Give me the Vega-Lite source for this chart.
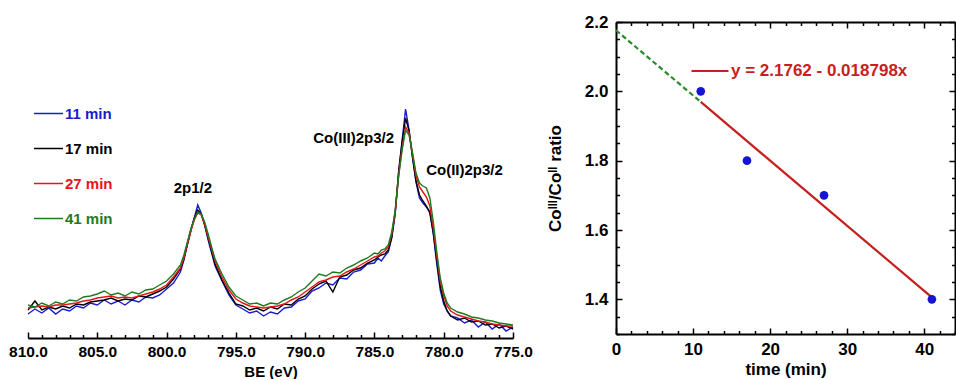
{
  "$schema": "https://vega.github.io/schema/vega-lite/v6.json",
  "padding": {"left": 8, "top": 13, "right": 0, "bottom": 0},
  "background": "white",
  "spacing": 13,
  "config": {
    "view": {"stroke": null},
    "font": "Liberation Sans",
    "axis": {"grid": false, "domainColor": "#000", "tickColor": "#000", "labelColor": "#000", "titleColor": "#000", "labelFontWeight": "bold", "titleFontWeight": "bold", "domainWidth": 2, "tickWidth": 1.5, "labelOverlap": false, "labelFlush": false},
    "legend": {"padding": 0, "titlePadding": 0}
  },
  "resolve": {"scale": {"color": "independent"}, "legend": {"color": "independent"}},
  "datasets": {
    "spec": [
      {"t":"11 min","e":810,"i":24},{"t":"11 min","e":809.5,"i":29},{"t":"11 min","e":809,"i":25},{"t":"11 min","e":808.5,"i":30},{"t":"11 min","e":808,"i":24},{"t":"11 min","e":807.5,"i":29},{"t":"11 min","e":807,"i":27},{"t":"11 min","e":806.5,"i":32},{"t":"11 min","e":806,"i":30},{"t":"11 min","e":805.5,"i":35},{"t":"11 min","e":805,"i":33},{"t":"11 min","e":804.5,"i":38},{"t":"11 min","e":804,"i":34},{"t":"11 min","e":803.5,"i":37},{"t":"11 min","e":803,"i":33},{"t":"11 min","e":802.5,"i":38},{"t":"11 min","e":802,"i":36},{"t":"11 min","e":801.5,"i":41},{"t":"11 min","e":801,"i":40},{"t":"11 min","e":800.5,"i":43},{"t":"11 min","e":800,"i":49},{"t":"11 min","e":799.5,"i":55},{"t":"11 min","e":799,"i":66},{"t":"11 min","e":798.75,"i":78},{"t":"11 min","e":798.5,"i":93},{"t":"11 min","e":798.25,"i":107},{"t":"11 min","e":798,"i":120},{"t":"11 min","e":797.75,"i":133},{"t":"11 min","e":797.5,"i":125},{"t":"11 min","e":797.25,"i":113},{"t":"11 min","e":797,"i":98},{"t":"11 min","e":796.75,"i":85},{"t":"11 min","e":796.5,"i":72},{"t":"11 min","e":796,"i":57},{"t":"11 min","e":795.5,"i":43},{"t":"11 min","e":795,"i":33},{"t":"11 min","e":794.5,"i":29},{"t":"11 min","e":794,"i":25},{"t":"11 min","e":793.5,"i":27},{"t":"11 min","e":793,"i":22},{"t":"11 min","e":792.5,"i":26},{"t":"11 min","e":792,"i":24},{"t":"11 min","e":791.5,"i":30},{"t":"11 min","e":791,"i":31},{"t":"11 min","e":790.5,"i":37},{"t":"11 min","e":790,"i":39},{"t":"11 min","e":789.5,"i":47},{"t":"11 min","e":789,"i":50},{"t":"11 min","e":788.5,"i":55},{"t":"11 min","e":788,"i":53},{"t":"11 min","e":787.5,"i":60},{"t":"11 min","e":787,"i":59},{"t":"11 min","e":786.5,"i":66},{"t":"11 min","e":786,"i":68},{"t":"11 min","e":785.5,"i":74},{"t":"11 min","e":785,"i":75},{"t":"11 min","e":784.75,"i":80},{"t":"11 min","e":784.5,"i":77},{"t":"11 min","e":784.25,"i":82},{"t":"11 min","e":784,"i":86},{"t":"11 min","e":783.75,"i":100},{"t":"11 min","e":783.5,"i":124},{"t":"11 min","e":783.25,"i":166},{"t":"11 min","e":783,"i":198},{"t":"11 min","e":782.75,"i":229},{"t":"11 min","e":782.5,"i":208},{"t":"11 min","e":782.25,"i":180},{"t":"11 min","e":782,"i":156},{"t":"11 min","e":781.75,"i":140},{"t":"11 min","e":781.5,"i":135},{"t":"11 min","e":781.25,"i":131},{"t":"11 min","e":781,"i":126},{"t":"11 min","e":780.75,"i":104},{"t":"11 min","e":780.5,"i":74},{"t":"11 min","e":780.25,"i":48},{"t":"11 min","e":780,"i":34},{"t":"11 min","e":779.75,"i":27},{"t":"11 min","e":779.5,"i":22},{"t":"11 min","e":779,"i":20},{"t":"11 min","e":778.5,"i":15},{"t":"11 min","e":778,"i":18},{"t":"11 min","e":777.5,"i":11},{"t":"11 min","e":777,"i":16},{"t":"11 min","e":776.5,"i":9},{"t":"11 min","e":776,"i":14},{"t":"11 min","e":775.5,"i":7},{"t":"11 min","e":775,"i":11},
      {"t":"17 min","e":810,"i":28},{"t":"17 min","e":809.5,"i":37},{"t":"17 min","e":809,"i":28},{"t":"17 min","e":808.5,"i":31},{"t":"17 min","e":808,"i":29},{"t":"17 min","e":807.5,"i":32},{"t":"17 min","e":807,"i":30},{"t":"17 min","e":806.5,"i":34},{"t":"17 min","e":806,"i":33},{"t":"17 min","e":805.5,"i":36},{"t":"17 min","e":805,"i":37},{"t":"17 min","e":804.5,"i":38},{"t":"17 min","e":804,"i":40},{"t":"17 min","e":803.5,"i":37},{"t":"17 min","e":803,"i":39},{"t":"17 min","e":802.5,"i":38},{"t":"17 min","e":802,"i":42},{"t":"17 min","e":801.5,"i":41},{"t":"17 min","e":801,"i":44},{"t":"17 min","e":800.5,"i":47},{"t":"17 min","e":800,"i":51},{"t":"17 min","e":799.5,"i":59},{"t":"17 min","e":799,"i":69},{"t":"17 min","e":798.75,"i":79},{"t":"17 min","e":798.5,"i":94},{"t":"17 min","e":798.25,"i":108},{"t":"17 min","e":798,"i":120},{"t":"17 min","e":797.75,"i":128},{"t":"17 min","e":797.5,"i":124},{"t":"17 min","e":797.25,"i":113},{"t":"17 min","e":797,"i":100},{"t":"17 min","e":796.75,"i":87},{"t":"17 min","e":796.5,"i":74},{"t":"17 min","e":796,"i":58},{"t":"17 min","e":795.5,"i":45},{"t":"17 min","e":795,"i":34},{"t":"17 min","e":794.5,"i":32},{"t":"17 min","e":794,"i":28},{"t":"17 min","e":793.5,"i":30},{"t":"17 min","e":793,"i":27},{"t":"17 min","e":792.5,"i":31},{"t":"17 min","e":792,"i":29},{"t":"17 min","e":791.5,"i":34},{"t":"17 min","e":791,"i":33},{"t":"17 min","e":790.5,"i":39},{"t":"17 min","e":790,"i":42},{"t":"17 min","e":789.5,"i":49},{"t":"17 min","e":789,"i":54},{"t":"17 min","e":788.5,"i":57},{"t":"17 min","e":788,"i":46},{"t":"17 min","e":787.5,"i":61},{"t":"17 min","e":787,"i":63},{"t":"17 min","e":786.5,"i":68},{"t":"17 min","e":786,"i":70},{"t":"17 min","e":785.5,"i":75},{"t":"17 min","e":785,"i":78},{"t":"17 min","e":784.75,"i":81},{"t":"17 min","e":784.5,"i":83},{"t":"17 min","e":784.25,"i":84},{"t":"17 min","e":784,"i":88},{"t":"17 min","e":783.75,"i":101},{"t":"17 min","e":783.5,"i":126},{"t":"17 min","e":783.25,"i":167},{"t":"17 min","e":783,"i":196},{"t":"17 min","e":782.75,"i":220},{"t":"17 min","e":782.5,"i":207},{"t":"17 min","e":782.25,"i":181},{"t":"17 min","e":782,"i":157},{"t":"17 min","e":781.75,"i":143},{"t":"17 min","e":781.5,"i":137},{"t":"17 min","e":781.25,"i":132},{"t":"17 min","e":781,"i":125},{"t":"17 min","e":780.75,"i":105},{"t":"17 min","e":780.5,"i":77},{"t":"17 min","e":780.25,"i":52},{"t":"17 min","e":780,"i":37},{"t":"17 min","e":779.75,"i":27},{"t":"17 min","e":779.5,"i":22},{"t":"17 min","e":779,"i":18},{"t":"17 min","e":778.5,"i":20},{"t":"17 min","e":778,"i":16},{"t":"17 min","e":777.5,"i":17},{"t":"17 min","e":777,"i":13},{"t":"17 min","e":776.5,"i":14},{"t":"17 min","e":776,"i":10},{"t":"17 min","e":775.5,"i":12},{"t":"17 min","e":775,"i":9},
      {"t":"27 min","e":810,"i":30},{"t":"27 min","e":809.5,"i":31},{"t":"27 min","e":809,"i":32},{"t":"27 min","e":808.5,"i":31},{"t":"27 min","e":808,"i":33},{"t":"27 min","e":807.5,"i":33},{"t":"27 min","e":807,"i":34},{"t":"27 min","e":806.5,"i":35},{"t":"27 min","e":806,"i":37},{"t":"27 min","e":805.5,"i":38},{"t":"27 min","e":805,"i":40},{"t":"27 min","e":804.5,"i":41},{"t":"27 min","e":804,"i":42},{"t":"27 min","e":803.5,"i":40},{"t":"27 min","e":803,"i":41},{"t":"27 min","e":802.5,"i":40},{"t":"27 min","e":802,"i":42},{"t":"27 min","e":801.5,"i":44},{"t":"27 min","e":801,"i":46},{"t":"27 min","e":800.5,"i":49},{"t":"27 min","e":800,"i":53},{"t":"27 min","e":799.5,"i":61},{"t":"27 min","e":799,"i":70},{"t":"27 min","e":798.75,"i":80},{"t":"27 min","e":798.5,"i":94},{"t":"27 min","e":798.25,"i":107},{"t":"27 min","e":798,"i":118},{"t":"27 min","e":797.75,"i":125},{"t":"27 min","e":797.5,"i":123},{"t":"27 min","e":797.25,"i":114},{"t":"27 min","e":797,"i":101},{"t":"27 min","e":796.75,"i":89},{"t":"27 min","e":796.5,"i":77},{"t":"27 min","e":796,"i":61},{"t":"27 min","e":795.5,"i":48},{"t":"27 min","e":795,"i":39},{"t":"27 min","e":794.5,"i":35},{"t":"27 min","e":794,"i":32},{"t":"27 min","e":793.5,"i":31},{"t":"27 min","e":793,"i":30},{"t":"27 min","e":792.5,"i":31},{"t":"27 min","e":792,"i":32},{"t":"27 min","e":791.5,"i":34},{"t":"27 min","e":791,"i":38},{"t":"27 min","e":790.5,"i":41},{"t":"27 min","e":790,"i":46},{"t":"27 min","e":789.5,"i":51},{"t":"27 min","e":789,"i":56},{"t":"27 min","e":788.5,"i":58},{"t":"27 min","e":788,"i":61},{"t":"27 min","e":787.5,"i":62},{"t":"27 min","e":787,"i":66},{"t":"27 min","e":786.5,"i":69},{"t":"27 min","e":786,"i":73},{"t":"27 min","e":785.5,"i":77},{"t":"27 min","e":785,"i":81},{"t":"27 min","e":784.75,"i":82},{"t":"27 min","e":784.5,"i":85},{"t":"27 min","e":784.25,"i":87},{"t":"27 min","e":784,"i":91},{"t":"27 min","e":783.75,"i":104},{"t":"27 min","e":783.5,"i":126},{"t":"27 min","e":783.25,"i":163},{"t":"27 min","e":783,"i":190},{"t":"27 min","e":782.75,"i":211},{"t":"27 min","e":782.5,"i":205},{"t":"27 min","e":782.25,"i":184},{"t":"27 min","e":782,"i":162},{"t":"27 min","e":781.75,"i":151},{"t":"27 min","e":781.5,"i":146},{"t":"27 min","e":781.25,"i":141},{"t":"27 min","e":781,"i":132},{"t":"27 min","e":780.75,"i":110},{"t":"27 min","e":780.5,"i":82},{"t":"27 min","e":780.25,"i":57},{"t":"27 min","e":780,"i":42},{"t":"27 min","e":779.75,"i":32},{"t":"27 min","e":779.5,"i":27},{"t":"27 min","e":779,"i":23},{"t":"27 min","e":778.5,"i":21},{"t":"27 min","e":778,"i":19},{"t":"27 min","e":777.5,"i":17},{"t":"27 min","e":777,"i":16},{"t":"27 min","e":776.5,"i":14},{"t":"27 min","e":776,"i":13},{"t":"27 min","e":775.5,"i":12},{"t":"27 min","e":775,"i":12},
      {"t":"41 min","e":810,"i":33},{"t":"41 min","e":809.5,"i":31},{"t":"41 min","e":809,"i":35},{"t":"41 min","e":808.5,"i":32},{"t":"41 min","e":808,"i":36},{"t":"41 min","e":807.5,"i":34},{"t":"41 min","e":807,"i":38},{"t":"41 min","e":806.5,"i":37},{"t":"41 min","e":806,"i":41},{"t":"41 min","e":805.5,"i":42},{"t":"41 min","e":805,"i":44},{"t":"41 min","e":804.5,"i":47},{"t":"41 min","e":804,"i":43},{"t":"41 min","e":803.5,"i":45},{"t":"41 min","e":803,"i":42},{"t":"41 min","e":802.5,"i":46},{"t":"41 min","e":802,"i":44},{"t":"41 min","e":801.5,"i":48},{"t":"41 min","e":801,"i":49},{"t":"41 min","e":800.5,"i":53},{"t":"41 min","e":800,"i":57},{"t":"41 min","e":799.5,"i":64},{"t":"41 min","e":799,"i":73},{"t":"41 min","e":798.75,"i":83},{"t":"41 min","e":798.5,"i":96},{"t":"41 min","e":798.25,"i":109},{"t":"41 min","e":798,"i":119},{"t":"41 min","e":797.75,"i":126},{"t":"41 min","e":797.5,"i":124},{"t":"41 min","e":797.25,"i":116},{"t":"41 min","e":797,"i":104},{"t":"41 min","e":796.75,"i":91},{"t":"41 min","e":796.5,"i":79},{"t":"41 min","e":796,"i":64},{"t":"41 min","e":795.5,"i":51},{"t":"41 min","e":795,"i":42},{"t":"41 min","e":794.5,"i":38},{"t":"41 min","e":794,"i":34},{"t":"41 min","e":793.5,"i":35},{"t":"41 min","e":793,"i":32},{"t":"41 min","e":792.5,"i":35},{"t":"41 min","e":792,"i":34},{"t":"41 min","e":791.5,"i":38},{"t":"41 min","e":791,"i":41},{"t":"41 min","e":790.5,"i":46},{"t":"41 min","e":790,"i":50},{"t":"41 min","e":789.5,"i":57},{"t":"41 min","e":789,"i":64},{"t":"41 min","e":788.5,"i":62},{"t":"41 min","e":788,"i":66},{"t":"41 min","e":787.5,"i":65},{"t":"41 min","e":787,"i":70},{"t":"41 min","e":786.5,"i":73},{"t":"41 min","e":786,"i":77},{"t":"41 min","e":785.5,"i":80},{"t":"41 min","e":785,"i":85},{"t":"41 min","e":784.75,"i":84},{"t":"41 min","e":784.5,"i":88},{"t":"41 min","e":784.25,"i":89},{"t":"41 min","e":784,"i":93},{"t":"41 min","e":783.75,"i":106},{"t":"41 min","e":783.5,"i":128},{"t":"41 min","e":783.25,"i":162},{"t":"41 min","e":783,"i":188},{"t":"41 min","e":782.75,"i":208},{"t":"41 min","e":782.5,"i":203},{"t":"41 min","e":782.25,"i":185},{"t":"41 min","e":782,"i":165},{"t":"41 min","e":781.75,"i":155},{"t":"41 min","e":781.5,"i":152},{"t":"41 min","e":781.25,"i":150},{"t":"41 min","e":781,"i":140},{"t":"41 min","e":780.75,"i":116},{"t":"41 min","e":780.5,"i":86},{"t":"41 min","e":780.25,"i":60},{"t":"41 min","e":780,"i":45},{"t":"41 min","e":779.75,"i":35},{"t":"41 min","e":779.5,"i":30},{"t":"41 min","e":779,"i":26},{"t":"41 min","e":778.5,"i":24},{"t":"41 min","e":778,"i":21},{"t":"41 min","e":777.5,"i":20},{"t":"41 min","e":777,"i":18},{"t":"41 min","e":776.5,"i":17},{"t":"41 min","e":776,"i":15},{"t":"41 min","e":775.5,"i":14},{"t":"41 min","e":775,"i":13}
    ],
    "ann": [
      {"e": 798.1, "i": 150, "label": "2p1/2"},
      {"e": 786.5, "i": 200, "label": "Co(III)2p3/2"},
      {"e": 778.5, "i": 168, "label": "Co(II)2p3/2"}
    ],
    "pts": [
      {"time": 11, "ratio": 2.0},
      {"time": 17, "ratio": 1.8},
      {"time": 27, "ratio": 1.7},
      {"time": 41, "ratio": 1.4}
    ],
    "fit": [
      {"time": 11, "ratio": 1.9694, "lab": "y = 2.1762 - 0.018798x"},
      {"time": 41, "ratio": 1.4055, "lab": "y = 2.1762 - 0.018798x"}
    ],
    "ext": [
      {"time": 0, "ratio": 2.1762},
      {"time": 11, "ratio": 1.9694}
    ]
  },
  "hconcat": [
    {
      "width": 485,
      "height": 316,
      "layer": [
        {
          "data": {"name": "spec"},
          "mark": {"type": "line", "strokeWidth": 1.4},
          "encoding": {
            "x": {
              "field": "e", "type": "quantitative",
              "scale": {"domain": [775, 810], "reverse": true, "nice": false, "zero": false},
              "axis": null
            },
            "y": {"field": "i", "type": "quantitative", "scale": {"domain": [0, 316], "nice": false, "zero": false}, "axis": null},
            "color": {
              "field": "t", "type": "nominal",
              "scale": {"domain": ["11 min", "17 min", "27 min", "41 min"], "range": ["#1a1ad0", "#000000", "#e8141a", "#1e7b1e"]},
              "legend": {
                "orient": "none", "legendX": 5, "legendY": 76, "title": null,
                "symbolType": "stroke", "symbolSize": 840, "symbolStrokeWidth": 1.5,
                "labelFontSize": 15, "labelFontWeight": "bold", "labelOffset": 1, "rowPadding": 11,
                "labelColor": {"expr": "datum.value == '11 min' ? '#1a1ad0' : datum.value == '17 min' ? '#000000' : datum.value == '27 min' ? '#e8141a' : '#1e7b1e'"}
              }
            }
          }
        },
        {
          "data": {"name": "ann"},
          "mark": {"type": "text", "fontSize": 15, "fontWeight": "bold", "color": "#000"},
          "encoding": {
            "x": {
              "field": "e", "type": "quantitative",
              "axis": {
                "orient": "bottom",
                "values": [775,776,777,778,779,780,781,782,783,784,785,786,787,788,789,790,791,792,793,794,795,796,797,798,799,800,801,802,803,804,805,806,807,808,809,810],
                "format": ".1f",
                "labelOverlap": false,
                "labelExpr": "datum.value % 5 == 0 ? datum.label : ''",
                "domain": true,
                "domainColor": "#000000",
                "domainWidth": 2,
                "ticks": true,
                "tickColor": "#000000",
                "tickWidth": 1.5,
                "tickSize": {"condition": {"test": "datum.value % 5 == 0", "value": -6}, "value": -3.5},
                "labelFontSize": 15.5,
                "labelPadding": 12,
                "title": "BE (eV)",
                "titleFontSize": 15,
                "titlePadding": 2
              }
            },
            "y": {"field": "i", "type": "quantitative", "axis": null},
            "text": {"field": "label"}
          }
        }
      ],
      "resolve": {"axis": {"x": "independent", "y": "independent"}}
    },
    {
      "width": 339,
      "height": 312,
      "layer": [
        {
          "data": {"name": "ext"},
          "mark": {"type": "line", "color": "#2a8a2a", "strokeWidth": 2.2, "strokeDash": [5, 3]},
          "encoding": {
            "x": {
              "field": "time", "type": "quantitative",
              "scale": {"domain": [0, 44], "nice": false, "zero": false},
              "axis": {
                "orient": "top", "labels": false, "title": null,
                "values": [0,2,4,6,8,10,12,14,16,18,20,22,24,26,28,30,32,34,36,38,40,42,44],
                "tickSize": {"condition": {"test": "datum.value % 10 == 0", "value": -6}, "value": -3.5}
              }
            },
            "y": {
              "field": "ratio", "type": "quantitative",
              "scale": {"domain": [1.3, 2.2], "nice": false, "zero": false},
              "axis": {
                "orient": "right", "labels": false, "title": null,
                "values": [1.3,1.35,1.4,1.45,1.5,1.55,1.6,1.65,1.7,1.75,1.8,1.85,1.9,1.95,2.0,2.05,2.1,2.15,2.2],
                "tickSize": {"condition": {"test": "abs(datum.value*5 - round(datum.value*5)) < 0.001", "value": -6}, "value": -3.5}
              }
            }
          }
        },
        {
          "data": {"name": "fit"},
          "mark": {"type": "line", "strokeWidth": 2.2},
          "encoding": {
            "x": {"field": "time", "type": "quantitative", "axis": null},
            "y": {"field": "ratio", "type": "quantitative", "axis": null},
            "color": {
              "field": "lab", "type": "nominal",
              "scale": {"range": ["#c81e1e"]},
              "legend": {
                "orient": "none", "legendX": 74, "legendY": 29, "title": null,
                "symbolType": "stroke", "symbolSize": 1369, "symbolStrokeWidth": 2.2,
                "labelFontSize": 17, "labelFontWeight": "bold", "labelOffset": 1, "labelLimit": 400, "labelColor": "#c81e1e"
              }
            }
          }
        },
        {
          "data": {"name": "pts"},
          "mark": {"type": "circle", "size": 75, "color": "#1414d2", "opacity": 1},
          "encoding": {
            "x": {
              "field": "time", "type": "quantitative",
              "axis": {
                "orient": "bottom",
                "values": [0,2,4,6,8,10,12,14,16,18,20,22,24,26,28,30,32,34,36,38,40,42,44],
                "labelOverlap": false,
                "labelExpr": "datum.value % 10 == 0 ? datum.label : ''",
                "tickSize": {"condition": {"test": "datum.value % 10 == 0", "value": -6}, "value": -3.5},
                "labelFontSize": 17, "labelPadding": 13,
                "title": "time (min)", "titleFontSize": 17, "titlePadding": 2
              }
            },
            "y": {
              "field": "ratio", "type": "quantitative",
              "axis": {
                "orient": "left",
                "values": [1.3,1.35,1.4,1.45,1.5,1.55,1.6,1.65,1.7,1.75,1.8,1.85,1.9,1.95,2.0,2.05,2.1,2.15,2.2],
                "format": ".1f",
                "labelOverlap": false,
                "labelExpr": "abs(datum.value*5 - round(datum.value*5)) < 0.001 ? datum.label : ''",
                "tickSize": {"condition": {"test": "abs(datum.value*5 - round(datum.value*5)) < 0.001", "value": -6}, "value": -3.5},
                "labelFontSize": 17, "labelPadding": 14,
                "title": "Coᴵᴵᴵ/Coᴵᴵ ratio", "titleFontSize": 17, "titlePadding": 20
              }
            }
          }
        }
      ],
      "resolve": {"axis": {"x": "independent", "y": "independent"}}
    }
  ]
}
